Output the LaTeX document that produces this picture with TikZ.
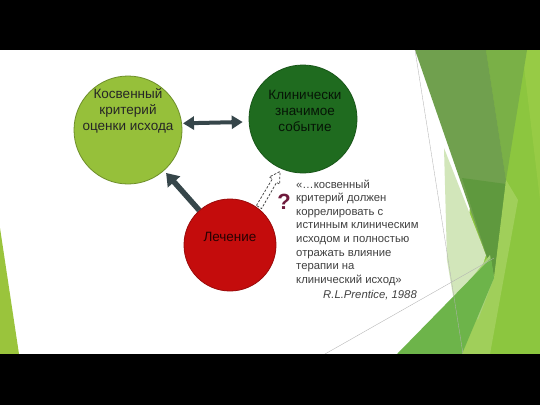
\documentclass[tikz,border=0pt]{standalone}
\usepackage{fontspec}
\setmainfont{Liberation Sans}
\usetikzlibrary{arrows.meta}
\definecolor{lgreen}{HTML}{96C03A}
\definecolor{lgreenEdge}{HTML}{6E8F2A}
\definecolor{dgreen}{HTML}{1F6B1F}
\definecolor{dgreenEdge}{HTML}{185618}
\definecolor{redc}{HTML}{C40C0C}
\definecolor{redEdge}{HTML}{9A0A0A}
\definecolor{arrowc}{HTML}{36464A}
\definecolor{quotec}{HTML}{404040}
\definecolor{qmark}{HTML}{6E1A3C}
\definecolor{olive}{HTML}{70A04E}
\definecolor{oliveDark}{HTML}{5F993E}
\definecolor{midband}{HTML}{7AB047}
\definecolor{bright}{HTML}{8CC63F}
\definecolor{brightlight}{HTML}{97CB45}
\definecolor{lime}{HTML}{A0CF5A}
\definecolor{medgreen}{HTML}{6DB44A}
\definecolor{lightmid}{HTML}{A8D27A}
\definecolor{pale}{HTML}{D2E6BA}
\definecolor{lefttri}{HTML}{9AC43C}
\tikzset{
  circ/.style={circle, draw=#1, line width=0.8pt, inner sep=0pt},
  ctext/.style={align=center, font=\fontsize{13.5}{16}\selectfont, inner sep=0pt},
  quote/.style={align=left, font=\fontsize{11.3}{13.6}\selectfont, text=quotec, inner sep=0pt, anchor=north west},
  dblarrow/.style={arrowc, line width=4pt, {Triangle[length=11pt,width=13pt]}-{Triangle[length=11pt,width=13pt]}},
  thickarrow/.style={arrowc, line width=5.5pt, -{Triangle[length=12pt,width=16pt]}},
  dasharrow/.style={draw=black!75, line width=0.75pt, dash pattern=on 2.4pt off 1.6pt, fill=white},
  thinline/.style={draw=black!30, line width=0.35pt}
}
\begin{document}
\begin{tikzpicture}[x=1pt,y=-1pt]
\useasboundingbox (0,0) rectangle (540,405);
% background
\fill[white] (0,50) rectangle (540,354);
% decorative shapes right
\fill[bright] (486,50) -- (540,50) -- (540,354) -- (455,354) -- cycle;
\fill[brightlight] (522,50) -- (540,50) -- (540,200) -- cycle;
\fill[midband] (486,50) -- (527,50) -- (506,180) -- cycle;
\fill[pale] (444,148) -- (486,255) -- (470,305) -- (455,308) -- (447,260) -- cycle;
\fill[olive] (415,50) -- (486,50) -- (506,180) -- (494,278) -- cycle;
\fill[oliveDark] (462,178) -- (506,184) -- (494,278) -- cycle;
\fill[lime] (506,180) -- (518,200) -- (490,354) -- (460,354) -- (494,278) -- cycle;
\fill[lightmid] (462,290) -- (490,255) -- (494,278) -- (478,320) -- cycle;
\fill[medgreen] (397,354) -- (491,258) -- (494,278) -- (462,354) -- cycle;
\draw[thinline] (415,50) -- (463,354);
\draw[thinline] (325,354) -- (494,258);
% left triangle
\fill[lefttri] (0,228) -- (19,354) -- (0,354) -- cycle;
% black bands
\fill[black] (0,0) rectangle (540,50);
\fill[black] (0,354) rectangle (540,405);

% circles
\node[circ=lgreenEdge, fill=lgreen, minimum size=108pt] (left) at (128,130) {};
\node[circ=dgreenEdge, fill=dgreen, minimum size=108pt] (right) at (303,119) {};
\node[circ=redEdge, fill=redc, minimum size=92pt] (red) at (230,245) {};

\node[ctext, text=black!85] (lefttxt) at (128,111) {Косвенный\\критерий\\оценки исхода};
\node[ctext, text=black!80!dgreen] (righttxt) at (305,111) {Клинически\\значимое\\событие};
\node[ctext, text=black!80!redc] (redtxt) at (230,237) {Лечение};

% arrows
\draw[dblarrow, shorten <=1pt, shorten >=6pt] (left.7) -- (right.183);
\draw[thickarrow, shorten <=0pt, shorten >=3pt] (red) -- (left);

\coordinate (dtail) at (259,207);
\coordinate (dtip) at (280,171.5);
\draw[dasharrow] (256.4,205.5) -- (272.4,178.8) -- (269.3,177.0) -- (dtip)
  -- (279.6,184.2) -- (276.6,182.4) -- (261.6,208.6) -- cycle;

\node[font=\fontsize{22}{25}\selectfont\bfseries, text=qmark, inner sep=0pt] (qm) at (284,202) {?};

\node[quote] (quote) at (296,179.5) {«…косвенный\\критерий должен\\коррелировать с\\истинным клиническим\\исходом и полностью\\отражать влияние\\терапии на\\клинический исход»};
\node[font=\fontsize{11.3}{13.6}\selectfont\itshape, text=quotec, inner sep=0pt] (author) at (370,295) {R.L.Prentice, 1988};
\end{tikzpicture}
\end{document}
